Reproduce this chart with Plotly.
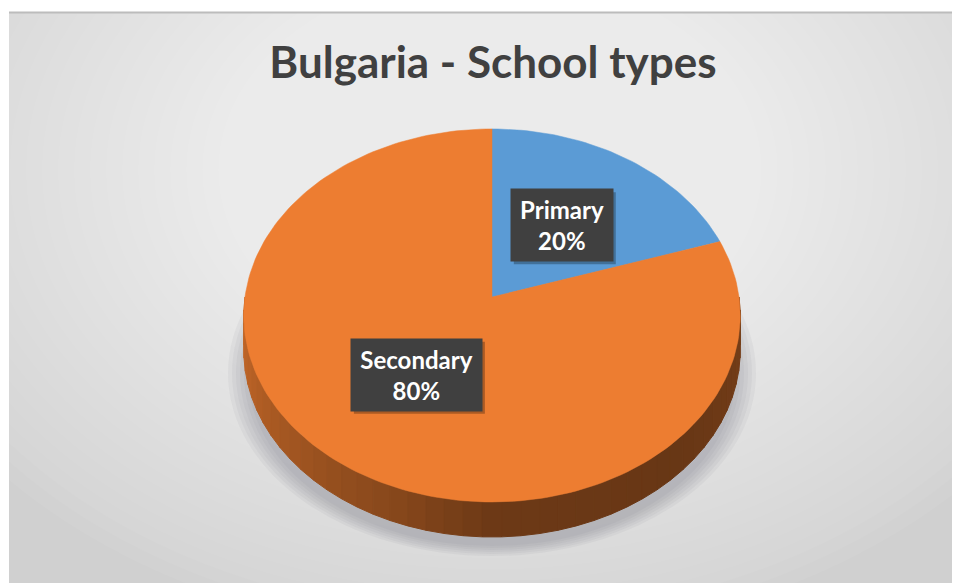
import math
import plotly.graph_objects as go

# chart data
categories = ["Primary", "Secondary"]
shares = [20, 80]
slice_colors = ["#5B9BD5", "#ED7D31"]
chart_title = "Bulgaria - School types"

W, H = 960, 583
OFF = 8  # page body margin: figure starts 8px in from the window corner

# pseudo-3D disc projection (screen pixels)
CX, CY = 492, 297      # vertex of the pie
A, B = 247, 184.7      # half width / half depth of the disc
P = 0.099              # perspective strength
DEPTH = 35             # thickness of the disc

# label box sizes (px)
label_box = {"Primary": (102, 72), "Secondary": (131, 72)}


def project(theta_deg, r=1.0):
    u = r * math.cos(math.radians(theta_deg))
    v = r * math.sin(math.radians(theta_deg))
    d = 1 + P * v
    return CX + A * u / d, CY - B * v / d


def hex_to_rgb(h):
    h = h.lstrip("#")
    return tuple(int(h[i:i + 2], 16) for i in (0, 2, 4))


def shade(color, f):
    r, g, b = hex_to_rgb(color)
    return "rgb(%d,%d,%d)" % (r * f, g * f, b * f)


def side_factor(t):
    # lighting along the front rim, t = 0 left edge -> 1 right edge
    pts = [(0, 0.85), (0.15, 0.74), (0.4, 0.56), (0.5, 0.46), (0.75, 0.44), (1.0, 0.5)]
    for (t0, f0), (t1, f1) in zip(pts, pts[1:]):
        if t <= t1:
            return f0 + (f1 - f0) * (t - t0) / (t1 - t0)
    return pts[-1][1]


total = sum(shares)
# slice angle ranges, starting at 12 o'clock going clockwise
slices = []
start = 90.0
for name, val, col in zip(categories, shares, slice_colors):
    sweep = 360.0 * val / total
    slices.append((name, val, col, start, start - sweep))
    start -= sweep


def slice_of(theta):
    for s in slices:
        hi, lo = s[3], s[4]
        t = theta
        while t > hi:
            t -= 360
        while t < lo:
            t += 360
        if lo <= t <= hi:
            return s
    return slices[-1]


fig = go.Figure()

# side of the disc: visible front half, drawn in thin bands
step = 4
for a0 in range(180, 360, step):
    a1 = a0 + step
    s = slice_of((a0 + a1) / 2)
    t = (a0 + step / 2 - 180) / 180
    angs = [a0 + (a1 - a0) * k / 4 for k in range(5)]
    top = [project(a) for a in angs]
    bot = [(x, y + DEPTH) for x, y in reversed(top)]
    pts = top + bot + [top[0]]
    c = shade(s[2], side_factor(t))
    fig.add_trace(go.Scatter(
        x=[p[0] for p in pts], y=[p[1] for p in pts],
        fill="toself", fillcolor=c, mode="lines",
        line=dict(color=c, width=1), hoverinfo="skip", showlegend=False
    ))

# top face slices
for name, val, col, hi, lo in slices:
    n = max(int(abs(hi - lo) / 1.5), 4)
    arc = [project(hi + (lo - hi) * k / n) for k in range(n + 1)]
    pts = [(CX, CY)] + arc + [(CX, CY)]
    fig.add_trace(go.Scatter(
        x=[p[0] for p in pts], y=[p[1] for p in pts],
        fill="toself", fillcolor=col, mode="lines",
        line=dict(color=col, width=0.5), name=name,
        hoveron="fills", hoverinfo="text",
        text="%s: %d%%" % (name, round(100 * val / total)),
        showlegend=False
    ))

# figure slightly larger than the window; the overflow is hidden
FW, FH = W - OFF + 10, H - OFF + 10

# background: frame with radial gray gradient
shapes = [dict(type="rect", x0=9, x1=OFF + FW, y0=12, y1=OFF + FH, layer="below",
               fillcolor="#d0d0d0", line=dict(width=0))]
steps = 40
for k in range(steps):
    f = 1 - k / steps
    shapes.append(dict(type="circle", layer="below",
                       x0=490 - 640 * f, x1=490 + 640 * f,
                       y0=170 - 470 * f, y1=170 + 470 * f,
                       fillcolor="rgba(255,255,255,0.046)", line=dict(width=0)))
# shadow under the pie
for k in range(6):
    g = k / 5
    shapes.append(dict(type="circle", layer="below",
                       x0=CX - 264 + 20 * g, x1=CX + 264 - 20 * g,
                       y0=190 + 12 * g, y1=556 - 10 * g,
                       fillcolor="rgba(110,115,125,0.07)", line=dict(width=0)))
shapes.append(dict(type="line", x0=9, x1=OFF + FW, y0=12.5, y1=12.5, layer="below",
                   line=dict(color="#bcbcbc", width=2)))

# data labels (dark boxes with a soft drop shadow)
for name, val, col, hi, lo in slices:
    lx, ly = project((hi + lo) / 2, 0.5)
    bw, bh = label_box[name]
    shapes.append(dict(type="rect", layer="above",
                       x0=lx - bw / 2 + 3, x1=lx + bw / 2 + 3,
                       y0=ly - bh / 2 + 3, y1=ly + bh / 2 + 3,
                       fillcolor="rgba(0,0,0,0.28)", line=dict(width=0)))
    fig.add_annotation(
        x=lx, y=ly, showarrow=False,
        text="<b>%s</b><br><b>%d%%</b>" % (name, round(100 * val / total)),
        font=dict(family="Lato", size=24, color="white"),
        bgcolor="#404040", borderpad=0, width=bw, height=bh
    )

fig.update_layout(
    width=FW, height=FH,
    margin=dict(l=0, r=0, t=0, b=0),
    paper_bgcolor="white",
    plot_bgcolor="rgba(0,0,0,0)",
    shapes=shapes,
    title=dict(text="<b>%s</b>" % chart_title, x=(493 - OFF) / FW, xanchor="center",
               y=1 - (63 - OFF) / FH, yanchor="middle", yref="container",
               font=dict(family="Lato", size=44, color="#404040")),
    xaxis=dict(range=[OFF, OFF + FW], visible=False, showgrid=False, zeroline=False,
               fixedrange=True),
    yaxis=dict(range=[OFF + FH, OFF], visible=False, showgrid=False, zeroline=False,
               fixedrange=True),
    showlegend=False,
)

# no scrollbars: the figure fills the window right up to its edges
fig.write_html("out.html", post_script="document.body.style.overflow='hidden';")
